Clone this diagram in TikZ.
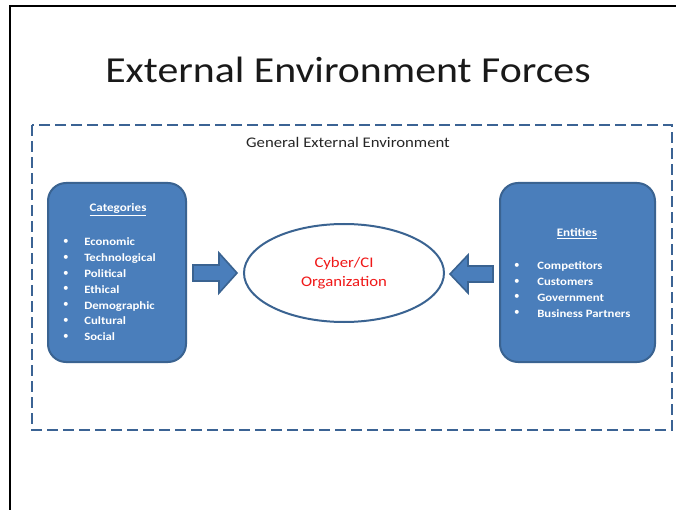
\documentclass[tikz,border=0pt]{standalone}
\usepackage{fontspec}
\usepackage{graphicx}
\setmainfont{Carlito}
\usetikzlibrary{shapes.geometric}
\definecolor{boxfill}{HTML}{4A7EBB}
\definecolor{boxline}{HTML}{3A6391}
\definecolor{dashline}{HTML}{3B6394}
\definecolor{orgred}{HTML}{F01818}
% slightly widened lettering used throughout the slide
\newcommand{\widetext}[1]{\scalebox{1.14}[1]{#1}}
\tikzset{
  panel/.style={draw=boxline, line width=1.5pt, fill=boxfill, rounded corners=13.5pt,
    inner sep=0pt},
  blockarrow/.style={draw=boxline, line width=1.2pt, fill=boxfill, line join=miter},
  listitem/.style={anchor=west, inner sep=0pt, text=white, text height=1.5ex, text depth=.25ex,
    font=\fontsize{8.4}{10}\selectfont\bfseries},
  bulletmark/.style={anchor=center, inner sep=0pt, text=white, font=\fontsize{8.4}{10}\selectfont},
  heading/.style={inner sep=0pt, text=white, font=\fontsize{8.6}{10}\selectfont\bfseries},
}
\begin{document}
\begin{tikzpicture}[x=0.75pt, y=-0.75pt]
  \useasboundingbox (0,0) rectangle (676,510);
  % slide frame
  \draw[line width=1.6pt, black] (10,510) -- (10,6) -- (676,6);
  % title
  \node[font=\fontsize{27.5}{30}\selectfont, text=black!90] (title) at (348,70) {\widetext{External Environment Forces}};
  % general environment boundary
  \draw[dashline, line width=1.5pt, dash pattern=on 8.5pt off 3.5pt] (32,125) rectangle (672,430);
  \node[font=\fontsize{11}{13}\selectfont, text=black!85] (general) at (348,142) {\widetext{General External Environment}};
  % category panel
  \node[panel, minimum width=103.5pt, minimum height=134.25pt] (cats) at (117,272.5) {};
  \node[heading] (catshead) at (118,210) {\widetext{\underline{Categories}}};
  \foreach \t [count=\i] in {Economic,Technological,Political,Ethical,Demographic,Cultural,Social} {
    \node[bulletmark] (catb\i) at (66,{242+15.8*(\i-1)}) {\textbullet};
    \node[listitem] (cat\i) at (84,{242+15.8*(\i-1)}) {\widetext{\t}};
  }
  % entity panel
  \node[panel, minimum width=116.25pt, minimum height=134.25pt] (ents) at (577.5,272.5) {};
  \node[heading] (entshead) at (577,234) {\widetext{\underline{Entities}}};
  \foreach \t [count=\i] in {Competitors,Customers,Government,Business Partners} {
    \node[bulletmark] (entb\i) at (517,{266+15.7*(\i-1)}) {\textbullet};
    \node[listitem] (ent\i) at (537,{266+15.7*(\i-1)}) {\widetext{\t}};
  }
  % organisation
  \node[ellipse, draw=boxline, line width=1.5pt, fill=white, minimum width=150pt, minimum height=73.5pt,
    text=orgred, font=\fontsize{11}{15}\selectfont] (org) at (344,273)
    {\widetext{\begin{tabular}{@{}c@{}}Cyber/CI\\Organization\end{tabular}}};
  % block arrows into the organisation
  \draw[blockarrow] (193,265) -- (219,265) -- (219,253) -- (237,273) -- (219,293) -- (219,281) -- (193,281) -- cycle;
  \draw[blockarrow] (493,266) -- (468,266) -- (468,255) -- (450,274) -- (468,293) -- (468,282) -- (493,282) -- cycle;
\end{tikzpicture}
\end{document}
